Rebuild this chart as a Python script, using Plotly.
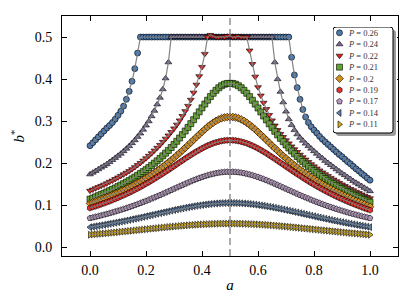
import plotly.graph_objects as go

# ---------------- data ----------------
a = [round(0.01 * i, 2) for i in range(101)]

p_labels = ["0.26", "0.24", "0.22", "0.21", "0.2", "0.19", "0.17", "0.14", "0.11"]

b_026 = [0.242, 0.249, 0.256, 0.263, 0.270, 0.277, 0.284, 0.290, 0.297, 0.305,
         0.314, 0.324, 0.336, 0.352, 0.371, 0.395, 0.425, 0.462, 0.500, 0.500,
         0.500, 0.500, 0.500, 0.500, 0.500, 0.500, 0.500, 0.500, 0.500, 0.500,
         0.500, 0.500, 0.500, 0.500, 0.500, 0.500, 0.500, 0.500, 0.500, 0.500,
         0.500, 0.500, 0.500, 0.500, 0.500, 0.500, 0.500, 0.500, 0.500, 0.500,
         0.500, 0.500, 0.500, 0.500, 0.500, 0.500, 0.500, 0.500, 0.500, 0.500,
         0.500, 0.500, 0.500, 0.500, 0.500, 0.500, 0.500, 0.500, 0.500, 0.500,
         0.500, 0.500, 0.452, 0.410, 0.380, 0.352, 0.328, 0.310, 0.297, 0.287,
         0.279, 0.272, 0.264, 0.257, 0.251, 0.245, 0.239, 0.233, 0.227, 0.221,
         0.216, 0.210, 0.204, 0.199, 0.193, 0.187, 0.182, 0.176, 0.171, 0.165,
         0.160]

b_024 = [0.174, 0.178, 0.182, 0.186, 0.190, 0.194, 0.198, 0.203, 0.208, 0.213,
         0.218, 0.223, 0.229, 0.235, 0.241, 0.248, 0.255, 0.263, 0.271, 0.280,
         0.290, 0.300, 0.312, 0.325, 0.340, 0.356, 0.376, 0.402, 0.440, 0.500,
         0.500, 0.500, 0.500, 0.500, 0.500, 0.500, 0.500, 0.500, 0.500, 0.500,
         0.500, 0.500, 0.500, 0.500, 0.500, 0.500, 0.500, 0.500, 0.500, 0.500,
         0.500, 0.500, 0.500, 0.500, 0.500, 0.500, 0.500, 0.500, 0.500, 0.500,
         0.500, 0.500, 0.500, 0.500, 0.500, 0.500, 0.440, 0.400, 0.370, 0.345,
         0.323, 0.305, 0.291, 0.279, 0.269, 0.261, 0.254, 0.247, 0.241, 0.235,
         0.229, 0.223, 0.217, 0.212, 0.206, 0.201, 0.196, 0.191, 0.186, 0.181,
         0.176, 0.172, 0.167, 0.163, 0.158, 0.154, 0.150, 0.146, 0.142, 0.138,
         0.134]

b_022 = [0.1350, 0.1379, 0.1408, 0.1437, 0.1466, 0.1495, 0.1526, 0.1561, 0.1592, 0.1628,
         0.1665, 0.1702, 0.1739, 0.1778, 0.1816, 0.1861, 0.1910, 0.1960, 0.2010, 0.2066,
         0.2122, 0.2180, 0.2240, 0.2304, 0.2370, 0.2438, 0.2511, 0.2587, 0.2663, 0.2745,
         0.2830, 0.2920, 0.3020, 0.3125, 0.3240, 0.3365, 0.3510, 0.3680, 0.3870, 0.4070,
         0.4290, 0.4600, 0.5000, 0.5050, 0.5020, 0.5000, 0.5000, 0.5010, 0.5000, 0.5020,
         0.5030, 0.5000, 0.5000, 0.5020, 0.5000, 0.5000, 0.5000, 0.4680, 0.4360, 0.4060,
         0.3810, 0.3610, 0.3440, 0.3290, 0.3150, 0.3020, 0.2900, 0.2790, 0.2700, 0.2625,
         0.2547, 0.2474, 0.2402, 0.2335, 0.2270, 0.2206, 0.2146, 0.2090, 0.2033, 0.1980,
         0.1929, 0.1879, 0.1832, 0.1786, 0.1741, 0.1698, 0.1655, 0.1615, 0.1576, 0.1537,
         0.1500, 0.1464, 0.1429, 0.1393, 0.1361, 0.1326, 0.1294, 0.1263, 0.1231, 0.1201,
         0.1170]

b_021 = [0.1150, 0.1177, 0.1205, 0.1233, 0.1261, 0.1290, 0.1321, 0.1351, 0.1383, 0.1415,
         0.1449, 0.1483, 0.1518, 0.1555, 0.1592, 0.1632, 0.1673, 0.1715, 0.1759, 0.1804,
         0.1851, 0.1900, 0.1951, 0.2005, 0.2060, 0.2118, 0.2179, 0.2243, 0.2308, 0.2377,
         0.2449, 0.2525, 0.2603, 0.2684, 0.2768, 0.2855, 0.2944, 0.3037, 0.3130, 0.3224,
         0.3318, 0.3410, 0.3500, 0.3586, 0.3665, 0.3735, 0.3796, 0.3844, 0.3879, 0.3898,
         0.3900,
         0.3898, 0.3879, 0.3844, 0.3796, 0.3734, 0.3664, 0.3585, 0.3498, 0.3408, 0.3315,
         0.3221, 0.3126, 0.3032, 0.2939, 0.2849, 0.2761, 0.2676, 0.2594, 0.2515, 0.2438,
         0.2365, 0.2294, 0.2228, 0.2163, 0.2100, 0.2041, 0.1985, 0.1929, 0.1876, 0.1826,
         0.1777, 0.1730, 0.1685, 0.1641, 0.1598, 0.1556, 0.1517, 0.1478, 0.1440, 0.1404,
         0.1368, 0.1334, 0.1299, 0.1267, 0.1233, 0.1202, 0.1171, 0.1140, 0.1110, 0.1080]

b_020 = [0.1050, 0.1074, 0.1097, 0.1123, 0.1148, 0.1173, 0.1199, 0.1226, 0.1253, 0.1281,
         0.1310, 0.1340, 0.1371, 0.1402, 0.1434, 0.1468, 0.1502, 0.1538, 0.1575, 0.1614,
         0.1653, 0.1694, 0.1735, 0.1779, 0.1824, 0.1871, 0.1920, 0.1970, 0.2022, 0.2076,
         0.2132, 0.2189, 0.2247, 0.2308, 0.2369, 0.2431, 0.2495, 0.2559, 0.2623, 0.2686,
         0.2748, 0.2808, 0.2865, 0.2918, 0.2966, 0.3009, 0.3044, 0.3072, 0.3090, 0.3100,
         0.3100,
         0.3100, 0.3090, 0.3072, 0.3043, 0.3008, 0.2965, 0.2916, 0.2863, 0.2805, 0.2745,
         0.2682, 0.2618, 0.2554, 0.2489, 0.2424, 0.2361, 0.2299, 0.2237, 0.2177, 0.2119,
         0.2062, 0.2007, 0.1953, 0.1902, 0.1851, 0.1802, 0.1756, 0.1710, 0.1667, 0.1624,
         0.1583, 0.1542, 0.1503, 0.1465, 0.1429, 0.1393, 0.1358, 0.1325, 0.1291, 0.1259,
         0.1227, 0.1197, 0.1167, 0.1137, 0.1108, 0.1080, 0.1052, 0.1023, 0.0997, 0.0970]

b_019 = [0.0940, 0.0961, 0.0982, 0.1005, 0.1028, 0.1052, 0.1077, 0.1102, 0.1129, 0.1156,
         0.1184, 0.1213, 0.1242, 0.1273, 0.1305, 0.1337, 0.1371, 0.1405, 0.1441, 0.1477,
         0.1515, 0.1553, 0.1592, 0.1633, 0.1674, 0.1716, 0.1758, 0.1802, 0.1845, 0.1890,
         0.1934, 0.1979, 0.2024, 0.2068, 0.2113, 0.2156, 0.2199, 0.2241, 0.2281, 0.2319,
         0.2356, 0.2390, 0.2422, 0.2450, 0.2476, 0.2498, 0.2516, 0.2531, 0.2542, 0.2548,
         0.2550,
         0.2548, 0.2542, 0.2531, 0.2516, 0.2498, 0.2476, 0.2449, 0.2421, 0.2389, 0.2354,
         0.2317, 0.2278, 0.2238, 0.2195, 0.2151, 0.2108, 0.2062, 0.2017, 0.1972, 0.1926,
         0.1881, 0.1835, 0.1791, 0.1746, 0.1703, 0.1660, 0.1618, 0.1576, 0.1536, 0.1497,
         0.1458, 0.1421, 0.1383, 0.1348, 0.1313, 0.1279, 0.1246, 0.1213, 0.1183, 0.1152,
         0.1122, 0.1094, 0.1065, 0.1038, 0.1012, 0.0986, 0.0961, 0.0936, 0.0913, 0.0890]

b_017 = [0.0700, 0.0715, 0.0731, 0.0747, 0.0764, 0.0781, 0.0799, 0.0817, 0.0836, 0.0856,
         0.0876, 0.0896, 0.0917, 0.0939, 0.0961, 0.0984, 0.1008, 0.1032, 0.1057, 0.1083,
         0.1109, 0.1135, 0.1163, 0.1190, 0.1219, 0.1247, 0.1277, 0.1306, 0.1336, 0.1366,
         0.1396, 0.1426, 0.1456, 0.1486, 0.1515, 0.1544, 0.1572, 0.1600, 0.1626, 0.1651,
         0.1675, 0.1697, 0.1718, 0.1736, 0.1752, 0.1767, 0.1779, 0.1788, 0.1795, 0.1799,
         0.1800,
         0.1799, 0.1795, 0.1788, 0.1779, 0.1767, 0.1752, 0.1736, 0.1718, 0.1697, 0.1675,
         0.1651, 0.1626, 0.1600, 0.1572, 0.1544, 0.1515, 0.1486, 0.1456, 0.1426, 0.1396,
         0.1366, 0.1336, 0.1306, 0.1277, 0.1247, 0.1219, 0.1190, 0.1163, 0.1135, 0.1109,
         0.1083, 0.1057, 0.1032, 0.1008, 0.0984, 0.0961, 0.0939, 0.0917, 0.0896, 0.0876,
         0.0856, 0.0836, 0.0817, 0.0799, 0.0781, 0.0764, 0.0747, 0.0731, 0.0715, 0.0700]

b_014 = [0.0485, 0.0496, 0.0507, 0.0518, 0.0529, 0.0541, 0.0553, 0.0565, 0.0577, 0.0590,
         0.0603, 0.0616, 0.0629, 0.0643, 0.0657, 0.0671, 0.0685, 0.0699, 0.0713, 0.0728,
         0.0743, 0.0758, 0.0773, 0.0788, 0.0803, 0.0818, 0.0833, 0.0847, 0.0862, 0.0877,
         0.0891, 0.0905, 0.0919, 0.0932, 0.0945, 0.0958, 0.0970, 0.0981, 0.0992, 0.1002,
         0.1012, 0.1021, 0.1029, 0.1036, 0.1043, 0.1048, 0.1052, 0.1056, 0.1058, 0.1060,
         0.1060,
         0.1060, 0.1058, 0.1056, 0.1052, 0.1048, 0.1043, 0.1036, 0.1029, 0.1021, 0.1012,
         0.1002, 0.0992, 0.0981, 0.0970, 0.0958, 0.0945, 0.0932, 0.0919, 0.0905, 0.0891,
         0.0877, 0.0862, 0.0847, 0.0833, 0.0818, 0.0803, 0.0788, 0.0773, 0.0758, 0.0743,
         0.0728, 0.0713, 0.0699, 0.0685, 0.0671, 0.0657, 0.0643, 0.0629, 0.0616, 0.0603,
         0.0590, 0.0577, 0.0565, 0.0553, 0.0541, 0.0529, 0.0518, 0.0507, 0.0496, 0.0485]

b_011 = [0.0305, 0.0311, 0.0317, 0.0323, 0.0329, 0.0335, 0.0341, 0.0347, 0.0353, 0.0360,
         0.0366, 0.0373, 0.0380, 0.0386, 0.0393, 0.0400, 0.0407, 0.0414, 0.0420, 0.0427,
         0.0434, 0.0441, 0.0448, 0.0455, 0.0461, 0.0468, 0.0475, 0.0481, 0.0488, 0.0494,
         0.0500, 0.0506, 0.0512, 0.0518, 0.0523, 0.0529, 0.0534, 0.0538, 0.0543, 0.0547,
         0.0551, 0.0554, 0.0557, 0.0560, 0.0563, 0.0565, 0.0567, 0.0568, 0.0569, 0.0570,
         0.0570,
         0.0570, 0.0569, 0.0568, 0.0567, 0.0565, 0.0563, 0.0560, 0.0557, 0.0554, 0.0551,
         0.0547, 0.0543, 0.0538, 0.0534, 0.0529, 0.0523, 0.0518, 0.0512, 0.0506, 0.0500,
         0.0494, 0.0488, 0.0481, 0.0475, 0.0468, 0.0461, 0.0455, 0.0448, 0.0441, 0.0434,
         0.0427, 0.0420, 0.0414, 0.0407, 0.0400, 0.0393, 0.0386, 0.0380, 0.0373, 0.0366,
         0.0360, 0.0353, 0.0347, 0.0341, 0.0335, 0.0329, 0.0323, 0.0317, 0.0311, 0.0305]

x_tickvals = [0.0, 0.2, 0.4, 0.6, 0.8, 1.0]
x_ticktext = ["0.0", "0.2", "0.4", "0.6", "0.8", "1.0"]
y_tickvals = [0.0, 0.1, 0.2, 0.3, 0.4, 0.5]
y_ticktext = ["0.0", "0.1", "0.2", "0.3", "0.4", "0.5"]

# ---------------- style ----------------
series = [b_026, b_024, b_022, b_021, b_020, b_019, b_017, b_014, b_011]
symbols = ["circle", "triangle-up", "triangle-down", "square", "diamond",
           "hexagon", "pentagon", "triangle-left", "triangle-right"]
colors = ["#4a7ab4", "#7c6b98", "#e0201e", "#62a52c", "#d98e1a",
          "#e8302c", "#b898c2", "#5f82b0", "#d8ae1c"]

SERIF = "Liberation Serif, DejaVu Serif, serif"

fig = go.Figure()
for vals, sym, col in zip(series, symbols, colors):
    fig.add_trace(go.Scatter(
        x=a, y=vals, mode="markers", showlegend=False, hoverinfo="skip",
        marker=dict(symbol=sym, size=6, color=col,
                    line=dict(color="black", width=0.6))))
    fig.add_trace(go.Scatter(
        x=a, y=vals, mode="lines", showlegend=False, hoverinfo="skip",
        line=dict(color="rgba(125,125,125,0.95)", width=1.2)))

# ---------------- custom legend (small subplot) ----------------
W, H = 64, 110       # legend subplot size in px
BW, BH = 60, 106     # legend box size in px
row0, rowstep = 5.8, 11.45
leg_rows = [row0 + rowstep * i for i in range(len(p_labels))]
fig.add_trace(go.Scatter(
    x=[6.5] * len(p_labels), y=leg_rows, mode="markers", showlegend=False,
    hoverinfo="skip", xaxis="x2", yaxis="y2", cliponaxis=False,
    marker=dict(symbol=symbols, size=6, color=colors,
                line=dict(color="black", width=0.6))))
for lbl, yy in zip(p_labels, leg_rows):
    fig.add_annotation(x=13, y=yy, xref="x2", yref="y2", xanchor="left",
                       yanchor="middle", showarrow=False,
                       text="<i>P</i> = " + lbl,
                       font=dict(family=SERIF, size=8.5, color="#333333"))

r = 3
box_path = (f"M {r},0 L {BW - r},0 Q {BW},0 {BW},{r} L {BW},{BH - r} "
            f"Q {BW},{BH} {BW - r},{BH} L {r},{BH} Q 0,{BH} 0,{BH - r} "
            f"L 0,{r} Q 0,0 {r},0 Z")
shadow_path = (f"M {r + 3},3 L {BW + 3 - r},3 Q {BW + 3},3 {BW + 3},{r + 3} "
               f"L {BW + 3},{BH + 3 - r} Q {BW + 3},{BH + 3} {BW + 3 - r},{BH + 3} "
               f"L {r + 3},{BH + 3} Q 3,{BH + 3} 3,{BH + 3 - r} L 3,{r + 3} "
               f"Q 3,3 {r + 3},3 Z")
fig.add_shape(type="path", path=shadow_path, xref="x2", yref="y2",
              fillcolor="#9a9a9a", line=dict(width=0), layer="below")
fig.add_shape(type="path", path=box_path, xref="x2", yref="y2",
              fillcolor="white", line=dict(color="black", width=1), layer="below")

# dashed vertical line at a = 0.5
fig.add_shape(type="line", xref="x", yref="paper", x0=0.5, x1=0.5, y0=0, y1=1,
              line=dict(color="#808080", width=1.3, dash="7px,4px"), layer="above")

# ---------------- layout ----------------
OFF = 8  # page body margin of the viewer
L, T = 62 - OFF, 16 - OFF
PW, PH = 336, 240
R = 407 - L - PW
B = 305 - T - PH
lx0, ly0 = 333 - OFF, 27 - OFF  # legend box top-left (figure px)
axis_common = dict(ticks="inside", ticklen=5, tickwidth=1, tickcolor="black",
                   showline=True, linecolor="black", linewidth=1, mirror="ticks",
                   showgrid=False, zeroline=False,
                   tickfont=dict(family=SERIF, size=14, color="black"))

fig.update_layout(
    width=407, height=305, autosize=False,
    margin=dict(l=L, r=R, t=T, b=B, pad=0),
    paper_bgcolor="white", plot_bgcolor="white",
    showlegend=False,
    xaxis=dict(range=[-0.1, 1.1], tickvals=x_tickvals, ticktext=x_ticktext,
               ticklabelstandoff=1,
               title=dict(text="<i>a</i>", standoff=2,
                          font=dict(family=SERIF, size=15, color="black")),
               **axis_common),
    yaxis=dict(range=[-0.02, 0.55], tickvals=y_tickvals, ticktext=y_ticktext,
               ticklabelstandoff=6,
               title=dict(text="<i>b</i><sup>*</sup>", standoff=6,
                          font=dict(family=SERIF, size=15, color="black")),
               **axis_common),
    xaxis2=dict(domain=[(lx0 - L) / PW, (lx0 + W - L) / PW], range=[0, W],
                visible=False, anchor="y2", fixedrange=True),
    yaxis2=dict(domain=[(T + PH - (ly0 + H)) / PH, (T + PH - ly0) / PH],
                range=[H, 0], visible=False, anchor="x2", fixedrange=True),
)

fig.write_html("out.html")
